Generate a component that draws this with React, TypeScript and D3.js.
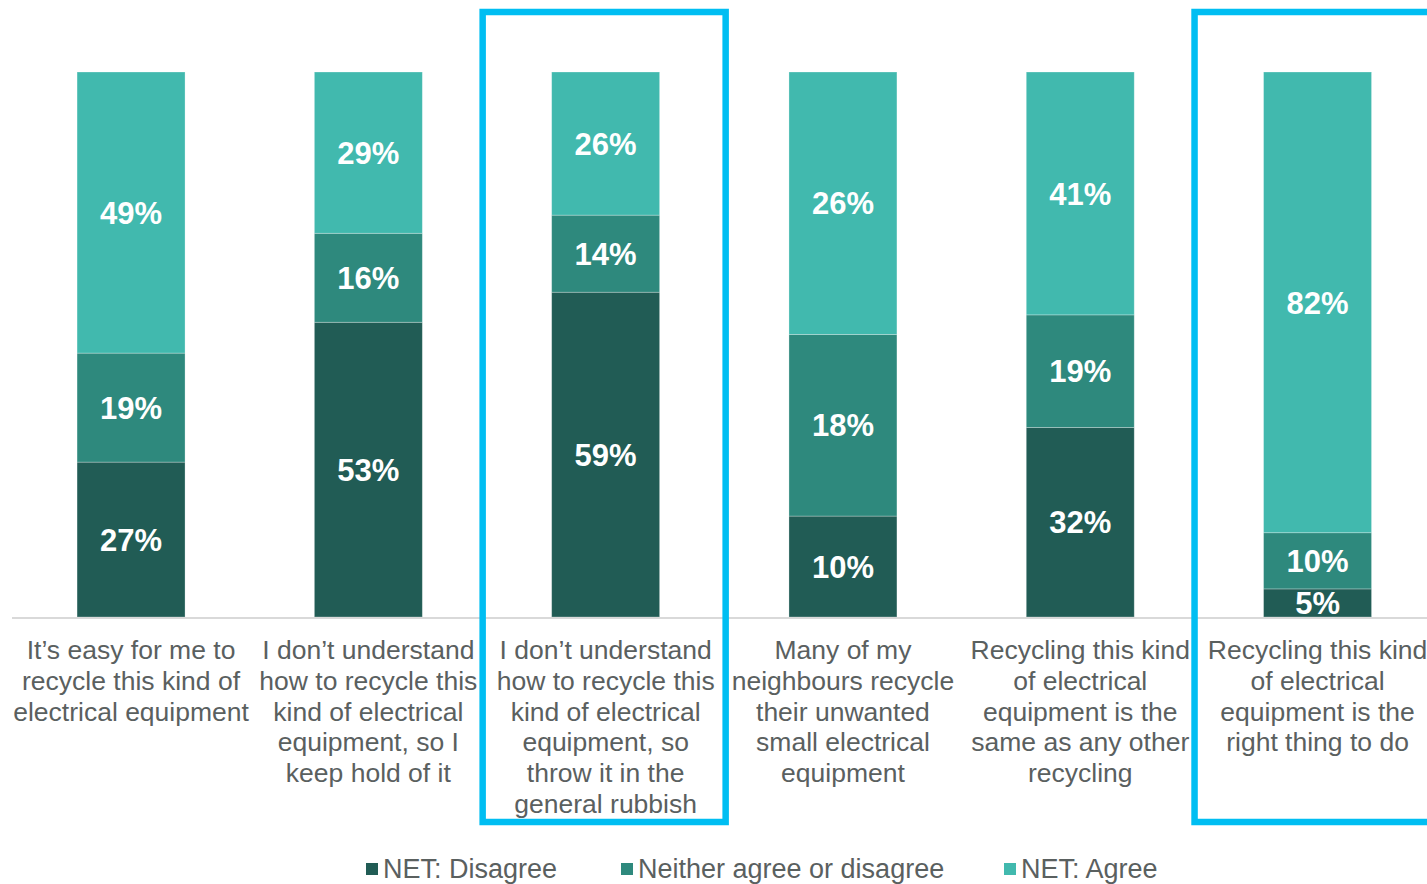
import React from "react";
import * as d3 from "d3";

const categories = [
  "It’s easy for me to\nrecycle this kind of\nelectrical equipment",
  "I don’t understand\nhow to recycle this\nkind of electrical\nequipment, so I\nkeep hold of it",
  "I don’t understand\nhow to recycle this\nkind of electrical\nequipment, so\nthrow it in the\ngeneral rubbish",
  "Many of my\nneighbours recycle\ntheir unwanted\nsmall electrical\nequipment",
  "Recycling this kind\nof electrical\nequipment is the\nsame as any other\nrecycling",
  "Recycling this kind\nof electrical\nequipment is the\nright thing to do",
];
const seriesNames = ["NET: Disagree", "Neither agree or disagree", "NET: Agree"];
const disagree = [27, 53, 59, 10, 32, 5];
const neither = [19, 16, 14, 18, 19, 10];
const agree = [49, 29, 26, 26, 41, 82];
const highlighted = [2, 5];
const colors = ["#215C55", "#2E897D", "#41B9AE"];

const W = 1427;
const H = 884;

export default function App() {
  const x = d3
    .scaleBand<number>()
    .domain(d3.range(categories.length))
    .range([12.4, 1436.2])
    .paddingInner(0.545)
    .paddingOuter(0.2725);
  const y = d3.scaleLinear().domain([0, 1]).range([617, 72]);

  const rows = categories.map((c, i) => {
    const vals = [disagree[i], neither[i], agree[i]];
    const total = d3.sum(vals);
    return { i, vals, total };
  });
  const tableRows = rows.map((r) => ({
    i: r.i,
    d0: r.vals[0] / r.total,
    d1: r.vals[1] / r.total,
    d2: r.vals[2] / r.total,
  }));
  const stack = d3.stack<any>().keys(["d0", "d1", "d2"]);
  const stacked = stack(tableRows);

  const legendX = [366, 621, 1004];

  return (
    <svg width={W} height={H} style={{ position: "absolute", left: 0, top: 0, fontFamily: "'Liberation Sans', Arial, sans-serif" }}>
      <rect width={W} height={H} fill="#ffffff" />
      {stacked.map((layer, si) => (
        <g key={si}>
          {layer.map((seg, ci) => {
            const x0 = x(ci)!;
            const y0 = y(seg[1]);
            const y1 = y(seg[0]);
            const raw = rows[ci].vals[si];
            return (
              <g key={ci}>
                <rect
                  x={x0}
                  y={y0}
                  width={x.bandwidth()}
                  height={y1 - y0}
                  fill={colors[si]}
                  stroke="#ffffff"
                  strokeOpacity={0.35}
                  strokeWidth={0.8}
                />
                <text
                  x={x0 + x.bandwidth() / 2}
                  y={(y0 + y1) / 2}
                  dy="0.36em"
                  textAnchor="middle"
                  fill="#ffffff"
                  fontWeight="bold"
                  fontSize={31}
                >
                  {raw}%
                </text>
              </g>
            );
          })}
        </g>
      ))}
      <line x1={12} x2={W} y1={618} y2={618} stroke="#D9D9D9" strokeWidth={2} />
      {categories.map((c, i) => (
        <text
          key={i}
          x={x(i)! + x.bandwidth() / 2}
          y={659}
          textAnchor="middle"
          fill="#5A605F"
          fontSize={26.5}
        >
          {c.split("\n").map((line, li) => (
            <tspan key={li} x={x(i)! + x.bandwidth() / 2} dy={li === 0 ? 0 : 30.8}>
              {line}
            </tspan>
          ))}
        </text>
      ))}
      {highlighted.map((i) => {
        const cx = x(i)! + x.bandwidth() / 2;
        return (
          <rect
            key={i}
            x={cx - 123}
            y={12}
            width={243}
            height={810}
            fill="none"
            stroke="#00BEF2"
            strokeWidth={6.5}
          />
        );
      })}
      {seriesNames.map((s, si) => (
        <g key={si}>
          <rect x={legendX[si]} y={863} width={12} height={12} fill={colors[si]} />
          <text x={legendX[si] + 17} y={878} fill="#5A605F" fontSize={27}>
            {s}
          </text>
        </g>
      ))}
    </svg>
  );
}
